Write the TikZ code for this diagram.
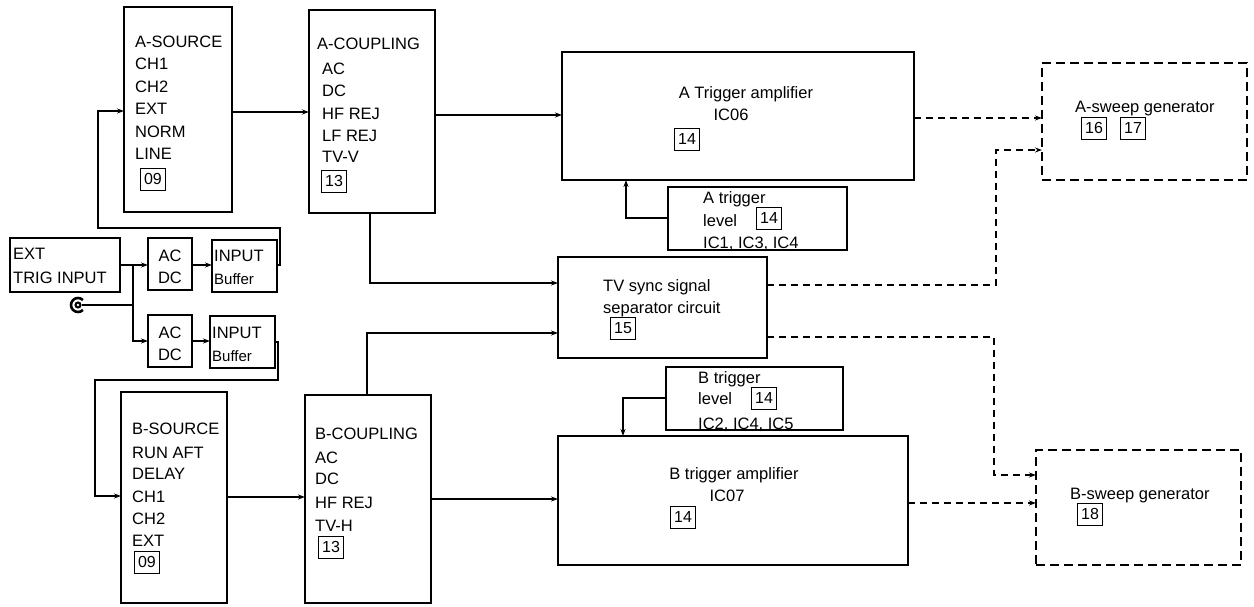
\documentclass[tikz,border=0pt]{standalone}
\usepackage{fontspec}
\setmainfont{Liberation Sans}
\usetikzlibrary{arrows.meta}
\begin{document}
\begin{tikzpicture}[x=1pt,y=-1pt,
  box/.style={draw, line width=2.6pt, inner sep=0pt, outer sep=0pt, anchor=north west},
  dbox/.style={box, dash pattern=on 9pt off 5pt},
  num/.style={draw, line width=0.9pt, inner sep=1.5pt, outer sep=0pt, minimum width=25pt, minimum height=22pt, font=\fontsize{16}{16}\selectfont},
  txt/.style={anchor=base west, inner sep=0pt, font=\fontsize{16.5}{16.5}\selectfont},
  ctxt/.style={anchor=base, inner sep=0pt, font=\fontsize{16.5}{16.5}\selectfont},
  wire/.style={line width=1.4pt},
  conn/.style={wire, -{Stealth[length=7pt,width=5pt]}},
  dconn/.style={conn, dash pattern=on 7pt off 5pt}]
\useasboundingbox (0,0) rectangle (1254,607);

% ---------- boxes ----------
\node[box, minimum width=108pt, minimum height=205pt] (asrc) at (124,7) {};
\node[box, minimum width=126pt, minimum height=203pt] (acpl) at (309,10) {};
\node[box, minimum width=106pt, minimum height=211pt] (bsrc) at (121,392) {};
\node[box, minimum width=126pt, minimum height=208pt] (bcpl) at (305,395) {};
\node[box, minimum width=110pt, minimum height=54pt] (ext) at (10,238) {};
\node[box, minimum width=44pt, minimum height=52pt] (acdc1) at (148,238) {};
\node[box, minimum width=65pt, minimum height=52pt] (buf1) at (212,240) {};
\node[box, minimum width=44pt, minimum height=52pt] (acdc2) at (148,315) {};
\node[box, minimum width=65pt, minimum height=52pt] (buf2) at (210,316) {};
\node[box, minimum width=352pt, minimum height=128pt] (atrig) at (562,52) {};
\node[box, minimum width=179pt, minimum height=63pt] (alev) at (668,187) {};
\node[box, minimum width=209pt, minimum height=101pt] (tv) at (558,257) {};
\node[box, minimum width=177pt, minimum height=63pt] (blev) at (666,367) {};
\node[box, minimum width=350pt, minimum height=129pt] (btrig) at (558,436) {};
\node[dbox, minimum width=205pt, minimum height=117pt] (asweep) at (1042,63) {};
\node[dbox, minimum width=205pt, minimum height=115pt] (bsweep) at (1036,450) {};

% ---------- texts ----------
\node[txt] (as1) at (135,48) {A-SOURCE};
\node[txt] (as2) at (135,70) {CH1};
\node[txt] (as3) at (135,93) {CH2};
\node[txt] (as4) at (135,115) {EXT};
\node[txt] (as5) at (135,138) {NORM};
\node[txt] (as6) at (135,160) {LINE};
\node[num] (asn) at (153,179) {09};

\node[txt] (ac1) at (317,50) {A-COUPLING};
\node[txt] (ac2) at (322,75) {AC};
\node[txt] (ac3) at (322,97) {DC};
\node[txt] (ac4) at (322,120) {HF REJ};
\node[txt] (ac5) at (322,142) {LF REJ};
\node[txt] (ac6) at (322,163) {TV-V};
\node[num] (acn) at (334,181) {13};

\node[txt] (bs1) at (132,434) {B-SOURCE};
\node[txt] (bs2) at (132,458) {RUN AFT};
\node[txt] (bs3) at (132,479) {DELAY};
\node[txt] (bs4) at (132,502) {CH1};
\node[txt] (bs5) at (132,524) {CH2};
\node[txt] (bs6) at (132,546) {EXT};
\node[num] (bsn) at (147,562) {09};

\node[txt] (bc1) at (315,439) {B-COUPLING};
\node[txt] (bc2) at (315,463) {AC};
\node[txt] (bc3) at (315,484) {DC};
\node[txt] (bc4) at (315,508) {HF REJ};
\node[txt] (bc5) at (315,531) {TV-H};
\node[num] (bcn) at (331,547) {13};

\node[txt] (e1) at (13,259) {EXT};
\node[txt] (e2) at (13,283) {TRIG INPUT};
\node[ctxt] (d1a) at (170,261) {AC};
\node[ctxt] (d1b) at (170,283) {DC};
\node[txt] (b1a) at (214,261) {INPUT};
\node[txt] (b1b) at (214,284) {\fontsize{15}{15}\selectfont Buffer};
\node[ctxt] (d2a) at (170,338) {AC};
\node[ctxt] (d2b) at (170,360) {DC};
\node[txt] (b2a) at (212,338) {INPUT};
\node[txt] (b2b) at (212,361) {\fontsize{15}{15}\selectfont Buffer};

\node[ctxt] (at1) at (746,99) {A Trigger amplifier};
\node[ctxt] (at2) at (731,121) {IC06};
\node[num] (atn) at (687,139) {14};

\node[txt] (al1) at (703,204) {A trigger};
\node[txt] (al2) at (703,226) {level};
\node[num] (aln) at (769,218) {14};
\node[txt] (al3) at (703,248) {IC1, IC3, IC4};

\node[txt] (tv1) at (603,291) {TV sync signal};
\node[txt] (tv2) at (603,313) {separator circuit};
\node[num] (tvn) at (623,328) {15};

\node[txt] (bl1) at (698,383) {B trigger};
\node[txt] (bl2) at (698,404) {level};
\node[num] (bln) at (764,398) {14};
\node[txt] (bl3) at (698,429) {IC2, IC4, IC5};

\node[ctxt] (bt1) at (734,479) {B trigger amplifier};
\node[ctxt] (bt2) at (727,501) {IC07};
\node[num] (btn) at (683,517) {14};

\node[txt] (sw1) at (1075,113) {A-sweep generator};
\node[num] (swn1) at (1094,128) {16};
\node[num] (swn2) at (1133,128) {17};

\node[txt] (sw2) at (1070,499) {B-sweep generator};
\node[num] (swn3) at (1090,514) {18};

% ---------- BNC connector ----------
\draw[line width=2.6pt] (78,305) ++(45:7) arc[start angle=45, end angle=315, radius=7];
\fill (78,305) circle (3.6pt);
\fill[white] (78,305) circle (1.3pt);
\coordinate (bnc) at (82,305);
\coordinate (j) at (133,265);

% ---------- connectors ----------
\draw[conn] (ext.east |- j) -- (acdc1.west |- j);
\draw[conn] (j) -- (133,341) -- (acdc2.west |- 0,341);
\draw[wire] (bnc) -- (133,305);
\draw[conn] (acdc1.east |- 0,265) -- (buf1.west |- 0,265);
\draw[conn] (acdc2.east |- 0,341) -- (buf2.west |- 0,341);
\draw[conn] (buf1.east |- 0,265) -- (280,265) -- (280,228) -- (98,228) -- (98,111) -- (asrc.west |- 0,111);
\draw[conn] (buf2.east |- 0,342) -- (278,342) -- (278,380) -- (95,380) -- (95,496) -- (bsrc.west |- 0,496);
\draw[conn] (asrc.east |- 0,112) -- (acpl.west |- 0,112);
\draw[conn] (bsrc.east |- 0,497) -- (bcpl.west |- 0,497);
\draw[conn] (acpl.east |- 0,115) -- (atrig.west |- 0,115);
\draw[conn] (bcpl.east |- 0,499) -- (btrig.west |- 0,499);
\draw[conn] (acpl.south -| 370,0) -- (370,283) -- (tv.west |- 0,283);
\draw[conn] (bcpl.north -| 367,0) -- (367,333) -- (tv.west |- 0,333);
\draw[conn] (alev.west |- 0,218) -- (626,218) -- (atrig.south -| 626,0);
\draw[conn] (blev.west |- 0,398) -- (623,398) -- (btrig.north -| 623,0);
\draw[dconn] (atrig.east |- 0,118) -- (asweep.west |- 0,118);
\draw[dconn] (tv.east |- 0,285) -- (996,285) -- (996,150) -- (asweep.west |- 0,150);
\draw[dconn] (tv.east |- 0,337) -- (994,337) -- (994,475) -- (bsweep.west |- 0,475);
\draw[dconn] (btrig.east |- 0,503) -- (bsweep.west |- 0,503);
\end{tikzpicture}
\end{document}
